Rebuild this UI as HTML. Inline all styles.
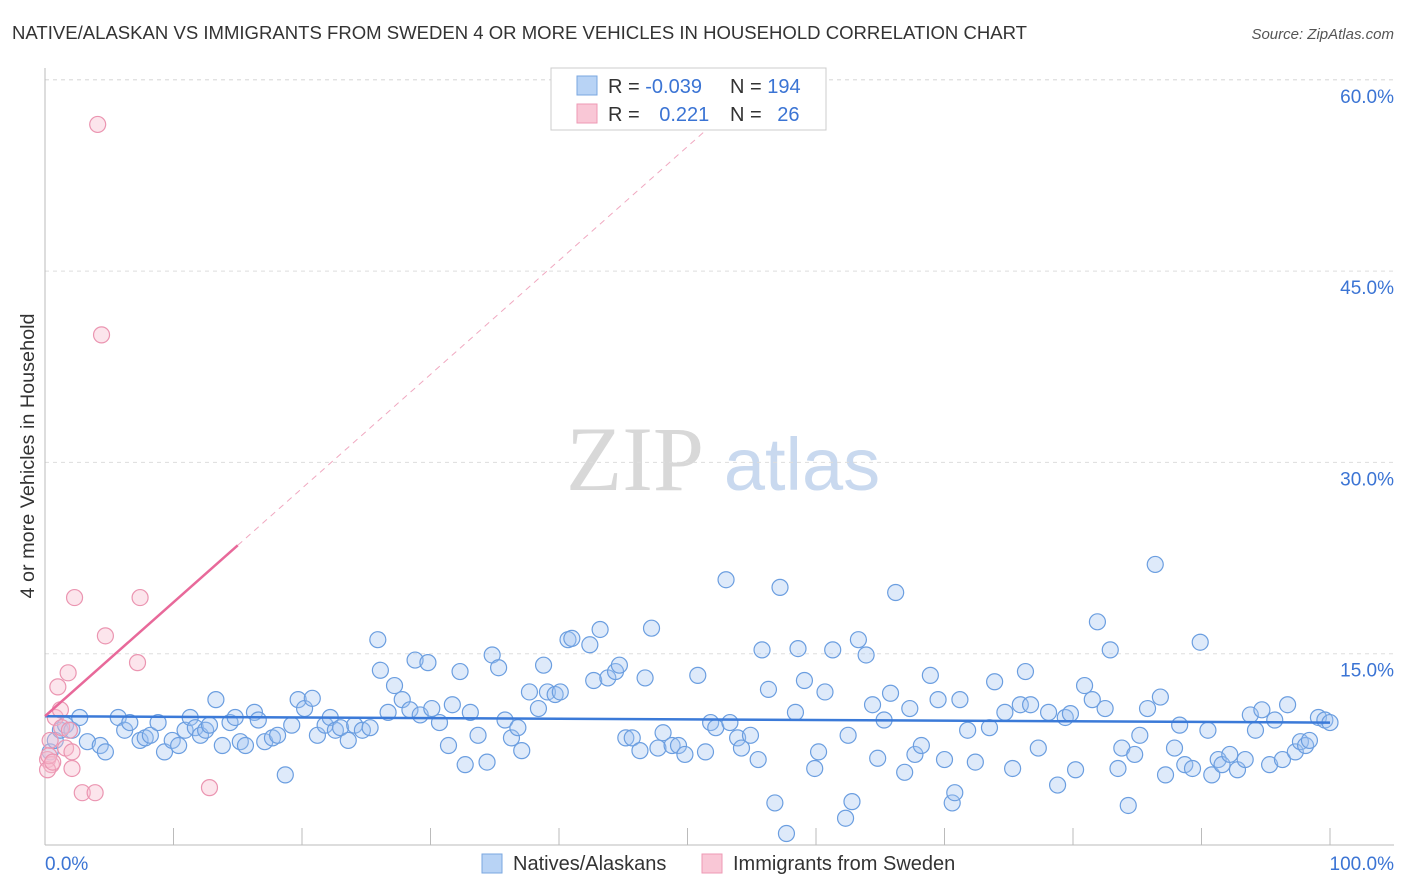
<!DOCTYPE html>
<html><head><meta charset="utf-8"><style>
body{margin:0;background:#fff;font-family:"Liberation Sans",sans-serif;}
svg{display:block}
</style></head><body>
<svg id="chart" width="1406" height="892">
<text x="12" y="39" font-size="18" fill="#333" textLength="1015" lengthAdjust="spacingAndGlyphs">NATIVE/ALASKAN VS IMMIGRANTS FROM SWEDEN 4 OR MORE VEHICLES IN HOUSEHOLD CORRELATION CHART</text>
<text x="1394" y="39" font-size="15" fill="#555" font-style="italic" text-anchor="end">Source: ZipAtlas.com</text>
<g><text x="635" y="490" font-size="92" font-family="Liberation Serif,serif" fill="#d8d8d8" text-anchor="middle">ZIP</text><text x="802" y="490" font-size="74" fill="#c9d9ef" text-anchor="middle">atlas</text></g>
<g id="grid"></g><g id="axes"></g><g id="pts"></g><g id="trend"></g>
<text x="34" y="456" font-size="19" fill="#333" text-anchor="middle" textLength="285" lengthAdjust="spacingAndGlyphs" transform="rotate(-90 34 456)">4 or more Vehicles in Household</text>
<text x="45" y="870" font-size="19" fill="#3b74d4">0.0%</text>
<text x="1394" y="870" font-size="19" fill="#3b74d4" text-anchor="end">100.0%</text>
<g>
<rect x="551" y="68" width="275" height="62" fill="#fff" stroke="#ccc"/>
<rect x="577" y="76" width="20" height="19" fill="#b8d3f5" stroke="#7aa7e0"/>
<rect x="577" y="104" width="20" height="19" fill="#f9c7d6" stroke="#ee9ab4"/>
<text x="608" y="93" font-size="20" fill="#333">R = <tspan fill="#3b74d4">-0.039</tspan></text>
<text x="730" y="93" font-size="20" fill="#333">N = <tspan fill="#3b74d4">194</tspan></text>
<text x="608" y="121" font-size="20" fill="#333">R = <tspan fill="#3b74d4" dx="14">0.221</tspan></text>
<text x="730" y="121" font-size="20" fill="#333">N = <tspan fill="#3b74d4" dx="10">26</tspan></text>
</g>
<g>
<rect x="482" y="854" width="20" height="19" fill="#b8d3f5" stroke="#7aa7e0"/>
<text x="513" y="870" font-size="20" fill="#333">Natives/Alaskans</text>
<rect x="702" y="854" width="20" height="19" fill="#f9c7d6" stroke="#ee9ab4"/>
<text x="733" y="870" font-size="20" fill="#333">Immigrants from Sweden</text>
</g>
</svg>
<script>
const yTicks=[15,30,45,60];
const xTicks=[0,10,20,30,40,50,60,70,80,90,100];
const blueX=[0.4,0.8,1.2,1.6,2.1,2.7,3.3,4.3,4.7,5.7,6.2,6.6,7.4,7.8,8.2,8.8,9.3,9.9,10.4,10.9,11.3,11.7,12.1,12.5,12.8,13.3,13.8,14.4,14.8,15.2,15.6,16.3,16.6,17.1,17.7,18.1,18.7,19.2,19.7,20.2,20.8,21.2,21.8,22.2,22.6,23.0,23.6,24.1,24.7,25.3,25.9,26.1,26.7,27.2,27.8,28.4,28.8,29.2,29.8,30.1,30.7,31.4,31.7,32.3,32.7,33.1,33.7,34.4,34.8,35.3,35.8,36.3,36.8,37.1,37.7,38.4,38.8,39.1,39.7,40.1,40.7,41.0,42.4,42.7,43.2,43.8,44.4,44.7,45.2,45.7,46.3,46.7,47.2,47.7,48.1,48.8,49.3,49.8,50.8,51.4,51.8,52.2,53.0,53.3,53.9,54.2,54.9,55.5,55.8,56.3,56.8,57.2,57.7,58.4,58.6,59.1,59.9,60.2,60.7,61.3,62.3,62.5,62.8,63.3,63.9,64.4,64.8,65.3,65.8,66.2,66.9,67.3,67.7,68.2,68.9,69.5,70.0,70.6,70.8,71.2,71.8,72.4,73.5,73.9,74.7,75.3,75.9,76.3,76.7,77.3,78.1,78.8,79.4,79.8,80.2,80.9,81.5,81.9,82.5,82.9,83.5,83.8,84.3,84.8,85.2,85.8,86.4,86.8,87.2,87.9,88.3,88.7,89.3,89.9,90.5,90.8,91.3,91.6,92.2,92.8,93.4,93.8,94.2,94.7,95.3,95.7,96.3,96.7,97.3,97.7,98.1,98.4,99.1,99.6,100.0];
const blueY=[7.3,8.2,9.0,9.4,9.0,10.0,8.1,7.8,7.3,10.0,9.0,9.6,8.2,8.4,8.6,9.6,7.3,8.2,7.8,9.0,10.0,9.2,8.6,9.0,9.4,11.4,7.8,9.6,10.0,8.1,7.8,10.4,9.8,8.1,8.4,8.6,5.5,9.4,11.4,10.7,11.5,8.6,9.4,10.0,9.0,9.2,8.2,9.4,9.0,9.2,16.1,13.7,10.4,12.5,11.4,10.6,14.5,10.2,14.3,10.7,9.6,7.8,11.0,13.6,6.3,10.4,8.6,6.5,14.9,13.9,9.8,8.4,9.2,7.4,12.0,10.7,14.1,12.0,11.8,12.0,16.1,16.2,15.7,12.9,16.9,13.1,13.6,14.1,8.4,8.4,7.4,13.1,17.0,7.6,8.8,7.8,7.8,7.1,13.3,7.3,9.6,9.2,20.8,9.6,8.4,7.6,8.6,6.7,15.3,12.2,3.3,20.2,0.9,10.4,15.4,12.9,6.0,7.3,12.0,15.3,2.1,8.6,3.4,16.1,14.9,11.0,6.8,9.8,11.9,19.8,5.7,10.7,7.1,7.8,13.3,11.4,6.7,3.3,4.1,11.4,9.0,6.5,9.2,12.8,10.4,6.0,11.0,13.6,11.0,7.6,10.4,4.7,10.0,10.3,5.9,12.5,11.4,17.5,10.7,15.3,6.0,7.6,3.1,7.1,8.6,10.7,22.0,11.6,5.5,7.6,9.4,6.3,6.0,15.9,9.0,5.5,6.7,6.3,7.1,5.9,6.7,10.2,9.0,10.6,6.3,9.8,6.7,11.0,7.3,8.1,7.8,8.2,10.0,9.8,9.6];
const pinkX=[4.1,4.4,2.3,7.4,4.7,7.2,1.8,1.0,0.8,1.3,1.9,0.4,1.6,2.1,0.2,0.5,2.1,0.2,2.9,3.9,12.8,1.2,0.3,0.6];
const pinkY=[56.5,40.0,19.4,19.4,16.4,14.3,13.5,12.4,10.0,9.2,9.0,8.2,7.6,7.3,6.7,6.3,6.0,5.9,4.1,4.1,4.5,10.6,7.0,6.5];
const blueTrend=[10.1,9.6];
const pinkTrend=[10.1,23.5];
const X0=45,X1=1330,Y0=845,PXPER=191.3/15;
const sx=v=>X0+(X1-X0)*v/100, sy=v=>Y0-v*PXPER;
const NS="http://www.w3.org/2000/svg";
function mk(tag,attrs,parent){const e=document.createElementNS(NS,tag);for(const k in attrs)e.setAttribute(k,attrs[k]);parent.appendChild(e);return e;}
const grid=document.getElementById('grid'),axes=document.getElementById('axes'),pts=document.getElementById('pts'),trend=document.getElementById('trend');
mk('line',{x1:X0,y1:sy(60),x2:1394,y2:sy(60),stroke:'#ddd','stroke-dasharray':'4,4'},grid);
yTicks.forEach(t=>{
 const l=mk('line',{x1:X0,y1:sy(t),x2:1394,y2:sy(t),stroke:'#ddd','stroke-dasharray':'4,4'},grid);
 
 
 const tx=mk('text',{x:1394,y:sy(t)+23,'font-size':19,fill:'#3b74d4','text-anchor':'end'},grid);
 tx.textContent=t.toFixed(1)+'%';
 
 
});
mk('line',{x1:X0,y1:68,x2:X0,y2:Y0,stroke:'#bbb'},axes);
mk('line',{x1:X0,y1:Y0,x2:1394,y2:Y0,stroke:'#bbb'},axes);
xTicks.forEach(t=>{
 const l=mk('line',{x1:sx(t),y1:Y0-17,x2:sx(t),y2:Y0,stroke:'#bbb'},axes);
 
 
});
blueX.forEach((x,i)=>{
 const c=mk('circle',{cx:sx(x),cy:sy(blueY[i]),r:8,fill:'rgba(160,195,240,0.35)',stroke:'#6b9ee0','stroke-width':1.2},pts);
 
 
});
pinkX.forEach((x,i)=>{
 const c=mk('circle',{cx:sx(x),cy:sy(pinkY[i]),r:8,fill:'rgba(248,190,208,0.4)',stroke:'#eb95b1','stroke-width':1.2},pts);
 
 
});
const bt=mk('line',{x1:sx(0),y1:sy(blueTrend[0]),x2:sx(100),y2:sy(blueTrend[1]),stroke:'#3b7ad8','stroke-width':2.5},trend);


const slope=(pinkTrend[1]-pinkTrend[0])/15;
const xEnd=(57-pinkTrend[0])/slope;
const pd=mk('line',{x1:sx(15),y1:sy(pinkTrend[1]),x2:sx(xEnd),y2:sy(57),stroke:'#f0a8c0','stroke-width':1,'stroke-dasharray':'6,5'},trend);


const pt=mk('line',{x1:sx(0),y1:sy(pinkTrend[0]),x2:sx(15),y2:sy(pinkTrend[1]),stroke:'#e8699a','stroke-width':2.5},trend);


</script>
</body></html>
